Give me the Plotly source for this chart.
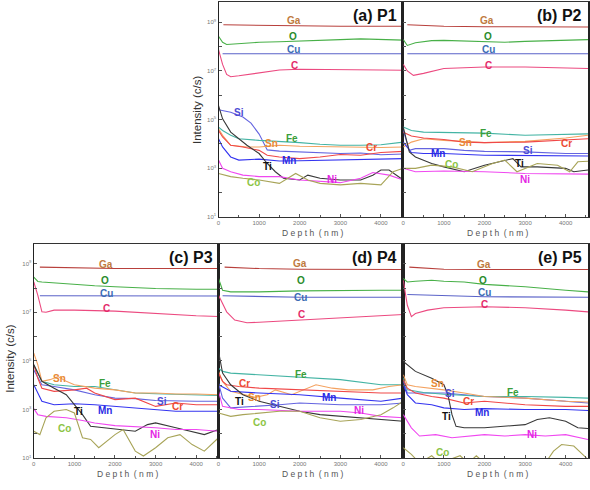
import plotly.graph_objects as go

# ---- data: depth (nm) and log10 intensity (c/s) ----
ELEMENTS = ["Ga", "O", "Cu", "C", "Si", "Fe", "Sn", "Cr", "Mn", "Ti", "Ni", "Co"]
PANEL_TITLES = ["(a) P1", "(b) P2", "(c) P3", "(d) P4", "(e) P5"]

P1 = {
    "Ga": ([120, 1000, 2000, 3000, 4550], [8.90, 8.88, 8.86, 8.84, 8.84]),
    "O": ([0, 100, 200, 500, 1000, 1500, 2000, 2500, 3000, 3500, 4000, 4550],
          [8.43, 8.18, 8.09, 8.13, 8.18, 8.20, 8.22, 8.25, 8.29, 8.32, 8.29, 8.27]),
    "Cu": ([100, 2000, 4550], [7.71, 7.71, 7.71]),
    "C": ([0, 100, 200, 300, 500, 1000, 1500, 2000, 3000, 4000, 4550],
          [7.88, 7.27, 6.86, 6.76, 6.80, 6.93, 7.04, 7.07, 7.07, 7.04, 7.03]),
    "Si": ([0, 300, 600, 800, 1000, 1100, 1200, 1500, 2000, 2500, 3000, 3500, 4000, 4550],
           [5.40, 5.30, 5.10, 4.85, 4.40, 4.05, 3.75, 3.70, 3.67, 3.62, 3.60, 3.62, 3.55, 3.58]),
    "Fe": ([0, 100, 300, 500, 1000, 1500, 2000, 2500, 3000, 3500, 4000, 4550],
           [4.69, 4.55, 4.35, 4.21, 4.14, 4.10, 4.05, 3.98, 3.94, 3.94, 3.96, 4.07]),
    "Sn": ([0, 100, 300, 700, 1000, 1500, 2000, 3000, 4000, 4550],
           [4.62, 4.35, 3.94, 3.87, 3.87, 3.94, 3.90, 3.87, 3.85, 3.87]),
    "Cr": ([0, 100, 300, 600, 1000, 1200, 1500, 2000, 2500, 3000, 3500, 4000, 4550],
           [4.55, 4.28, 3.94, 3.87, 3.73, 3.53, 3.46, 3.39, 3.46, 3.56, 3.53, 3.64, 3.69]),
    "Mn": ([0, 100, 300, 500, 1000, 1500, 2000, 3000, 4000, 4550],
           [4.21, 3.87, 3.46, 3.33, 3.37, 3.29, 3.30, 3.33, 3.37, 3.39]),
    "Ti": ([0, 100, 300, 500, 700, 1000, 1200, 1400, 1600, 2000, 2200, 2500, 3000, 3500, 3800, 4000, 4200, 4550],
           [5.57, 5.03, 4.48, 4.21, 3.94, 3.60, 3.19, 2.85, 2.58, 2.51, 2.71, 2.58, 2.51, 2.51, 2.71, 2.92, 2.92, 2.51]),
    "Ni": ([0, 100, 300, 600, 1000, 1500, 2000, 2500, 3000, 3500, 3800, 4200, 4550],
           [3.33, 2.99, 2.85, 2.71, 2.65, 2.65, 2.51, 2.47, 2.40, 2.58, 2.82, 2.71, 2.51]),
    "Co": ([0, 300, 600, 1000, 1500, 1900, 2200, 2500, 3000, 3500, 4000, 4300, 4550],
           [2.78, 2.65, 2.58, 2.51, 2.37, 2.78, 2.51, 2.37, 2.31, 2.37, 2.31, 2.85, 2.99]),
}

P2 = {
    "Ga": ([100, 1000, 2000, 4550], [8.90, 8.84, 8.82, 8.81]),
    "O": ([0, 100, 300, 700, 1000, 2000, 2500, 3000, 4000, 4550],
          [8.29, 8.05, 8.16, 8.25, 8.26, 8.21, 8.18, 8.22, 8.26, 8.29]),
    "Cu": ([100, 2000, 4550], [7.71, 7.71, 7.71]),
    "C": ([0, 100, 250, 500, 1000, 2000, 3000, 4000, 4550],
          [7.27, 7.00, 6.82, 6.90, 7.10, 7.16, 7.16, 7.13, 7.10]),
    "Si": ([0, 150, 300, 1000, 1500, 2000, 3000, 4000, 4550],
           [4.55, 3.73, 3.80, 3.80, 3.73, 3.69, 3.67, 3.60, 3.60]),
    "Fe": ([0, 200, 500, 1000, 2000, 3000, 4000, 4550],
           [4.69, 4.55, 4.48, 4.46, 4.44, 4.35, 4.38, 4.41]),
    "Sn": ([0, 200, 500, 1000, 2000, 3000, 4000, 4550],
           [3.87, 4.07, 4.21, 4.14, 4.05, 4.10, 4.24, 4.35]),
    "Cr": ([0, 200, 500, 1000, 1500, 2000, 3000, 4000, 4550],
           [4.48, 4.32, 4.24, 4.18, 4.07, 4.05, 4.07, 4.18, 4.21]),
    "Mn": ([0, 200, 500, 1000, 2000, 3000, 4000, 4550],
           [4.07, 3.64, 3.60, 3.60, 3.53, 3.53, 3.53, 3.50]),
    "Ti": ([0, 150, 300, 700, 1000, 1500, 2000, 2500, 2700, 2900, 3300, 4000, 4200, 4550],
           [4.69, 3.67, 3.46, 3.19, 3.05, 2.85, 3.12, 3.33, 3.39, 3.05, 3.05, 2.99, 2.85, 2.92]),
    "Ni": ([0, 300, 1000, 2000, 3000, 4000, 4550],
           [2.99, 2.85, 2.88, 2.85, 2.78, 2.78, 2.75]),
    "Co": ([0, 300, 700, 1200, 1700, 2200, 2500, 2800, 3300, 3800, 4100, 4300, 4550],
           [2.99, 2.99, 3.12, 3.05, 2.85, 3.19, 3.33, 2.85, 3.19, 3.12, 2.85, 3.26, 3.28]),
}

P3 = {
    "Ga": ([150, 1000, 2000, 4550], [8.86, 8.83, 8.80, 8.80]),
    "O": ([0, 100, 200, 500, 1000, 1500, 2000, 3000, 4000, 4550],
          [8.45, 8.27, 8.25, 8.21, 8.14, 8.09, 8.05, 7.98, 7.95, 7.95]),
    "Cu": ([150, 2000, 4550], [7.68, 7.68, 7.67]),
    "C": ([0, 100, 200, 300, 500, 1000, 2000, 3000, 4000, 4550],
          [8.25, 7.70, 7.02, 7.00, 7.09, 7.09, 7.05, 6.95, 6.86, 6.83]),
    "Si": ([0, 200, 500, 1000, 1500, 2000, 2500, 3000, 4000, 4550],
           [4.63, 4.02, 3.95, 3.81, 3.61, 3.47, 3.45, 3.37, 3.34, 3.34]),
    "Fe": ([0, 200, 500, 1000, 1500, 2000, 2500, 3000, 4000, 4550],
           [4.84, 4.16, 4.02, 3.95, 3.95, 3.81, 3.68, 3.65, 3.61, 3.58]),
    "Sn": ([0, 100, 200, 400, 600, 800, 1000, 1500, 2000, 2500, 3000, 3500, 4000, 4550],
           [5.32, 4.84, 4.16, 4.23, 4.36, 4.16, 4.02, 3.88, 3.81, 3.68, 3.68, 3.64, 3.64, 3.61]),
    "Cr": ([0, 100, 200, 500, 1000, 1300, 1500, 2000, 2500, 3000, 3500, 4000, 4550],
           [4.84, 4.29, 3.88, 3.75, 3.81, 3.88, 3.68, 3.41, 3.47, 3.13, 3.27, 3.20, 3.20]),
    "Mn": ([0, 100, 200, 500, 1000, 1500, 2000, 3000, 3500, 4000, 4550],
           [4.02, 3.68, 3.34, 3.20, 3.24, 3.20, 3.13, 3.00, 2.93, 2.93, 2.93]),
    "Ti": ([0, 200, 500, 800, 1000, 1200, 1400, 1700, 2000, 2500, 2800, 3000, 3500, 4000, 4200, 4550],
           [4.84, 4.16, 3.88, 3.61, 3.20, 2.79, 2.31, 2.25, 2.22, 2.11, 2.38, 2.45, 2.25, 2.04, 1.97, 2.18]),
    "Ni": ([0, 100, 300, 800, 1200, 1500, 2000, 2500, 3000, 3500, 4000, 4550],
           [3.04, 2.79, 2.72, 2.66, 2.55, 2.45, 2.34, 2.31, 2.25, 2.18, 2.18, 2.11]),
    "Co": ([0, 150, 300, 500, 800, 1000, 1200, 1400, 1600, 1800, 2000, 2200, 2500, 2700, 3000, 3300, 3600, 3900, 4200, 4550],
           [2.11, 1.97, 2.66, 2.93, 3.00, 2.86, 1.84, 1.77, 1.43, 1.70, 1.97, 2.18, 1.29, 1.09, 1.43, 1.84, 1.97, 1.56, 1.29, 1.84]),
}

P4 = {
    "Ga": ([150, 1000, 2000, 4550], [8.86, 8.80, 8.77, 8.76]),
    "O": ([0, 100, 300, 1000, 2000, 3000, 4000, 4550],
          [8.39, 7.91, 7.84, 7.84, 7.88, 7.91, 7.91, 7.91]),
    "Cu": ([100, 1000, 2000, 4550], [7.68, 7.65, 7.62, 7.62]),
    "C": ([0, 100, 200, 400, 700, 1000, 2000, 3000, 4000, 4550],
          [7.70, 7.36, 7.02, 6.68, 6.57, 6.59, 6.68, 6.79, 6.89, 6.91]),
    "Si": ([0, 100, 300, 1000, 1500, 2000, 3000, 4000, 4550],
           [4.09, 3.47, 3.07, 3.13, 3.20, 3.27, 3.20, 3.20, 3.27]),
    "Fe": ([0, 100, 300, 1000, 2000, 3000, 4000, 4550],
           [4.70, 4.57, 4.50, 4.43, 4.36, 4.23, 4.02, 4.02]),
    "Sn": ([0, 100, 300, 600, 900, 1200, 1400, 1800, 2200, 2400, 2800, 3200, 3800, 4200, 4550],
           [4.57, 4.16, 3.75, 3.61, 3.50, 3.61, 3.81, 3.61, 3.88, 4.02, 3.88, 3.81, 3.81, 3.95, 4.02]),
    "Cr": ([0, 100, 200, 500, 1000, 2000, 3000, 4000, 4550],
           [4.50, 4.16, 4.02, 3.95, 3.88, 3.81, 3.75, 3.68, 3.68]),
    "Mn": ([0, 300, 1000, 2000, 3000, 4000, 4550],
           [4.02, 3.75, 3.68, 3.61, 3.47, 3.34, 3.47]),
    "Ti": ([0, 100, 300, 600, 1000, 1500, 2000, 2500, 3000, 3500, 4000, 4550],
           [5.39, 4.50, 4.02, 3.61, 3.34, 3.13, 2.93, 2.79, 2.72, 2.66, 2.59, 2.52]),
    "Ni": ([0, 100, 500, 1000, 2000, 3000, 3500, 4000, 4550],
           [3.75, 3.13, 3.00, 3.00, 2.93, 2.93, 2.86, 2.72, 2.66]),
    "Co": ([0, 300, 600, 1000, 1500, 2000, 2500, 3000, 3500, 4000, 4300, 4550],
           [2.86, 2.72, 2.79, 2.86, 2.93, 2.93, 2.66, 2.52, 2.59, 2.79, 3.07, 3.34]),
}

P5 = {
    "Ga": ([150, 1000, 2000, 4550], [8.86, 8.77, 8.76, 8.76]),
    "O": ([0, 100, 300, 700, 1000, 1500, 2000, 3000, 4000, 4550],
          [8.39, 8.25, 8.28, 8.32, 8.28, 8.25, 8.15, 8.05, 7.91, 7.84]),
    "Cu": ([100, 1000, 2000, 4550], [7.73, 7.68, 7.64, 7.62]),
    "C": ([0, 100, 200, 300, 600, 1000, 2000, 3000, 4000, 4550],
          [8.32, 7.29, 6.82, 6.95, 7.09, 7.19, 7.23, 7.19, 7.09, 7.02]),
    "Si": ([0, 100, 500, 1000, 1500, 2000, 3000, 4000, 4550],
           [4.16, 3.68, 3.68, 3.68, 3.61, 3.54, 3.47, 3.34, 3.27]),
    "Fe": ([0, 100, 500, 1000, 2000, 3000, 4000, 4550],
           [4.29, 3.81, 3.70, 3.63, 3.54, 3.54, 3.50, 3.47]),
    "Sn": ([0, 100, 300, 700, 1000, 1500, 2000, 3000, 4000, 4550],
           [4.43, 4.02, 3.95, 3.88, 3.81, 3.68, 3.54, 3.47, 3.34, 3.31]),
    "Cr": ([0, 100, 300, 700, 1000, 1500, 2000, 3000, 4000, 4550],
           [4.23, 3.88, 3.68, 3.54, 3.47, 3.27, 3.34, 3.20, 3.13, 3.13]),
    "Mn": ([0, 100, 300, 700, 1000, 1500, 2000, 3000, 4000, 4550],
           [4.02, 3.61, 3.27, 3.20, 3.07, 3.00, 3.04, 3.00, 3.00, 2.96]),
    "Ti": ([0, 300, 700, 1000, 1100, 1200, 1300, 1500, 2000, 2500, 3000, 3300, 3600, 4000, 4300, 4550],
           [4.98, 4.57, 4.29, 4.02, 3.61, 2.79, 2.31, 2.25, 2.25, 2.31, 2.38, 2.59, 2.66, 2.52, 2.25, 2.22]),
    "Ni": ([0, 200, 400, 800, 1200, 1600, 2000, 2500, 3000, 3500, 4000, 4550],
           [2.79, 2.25, 1.91, 1.97, 1.84, 1.91, 1.97, 1.91, 1.97, 1.91, 1.97, 1.77]),
    "Co": ([0, 200, 400, 700, 900, 1400, 1600, 1800, 2000, 3500, 3700, 3900, 4200, 4400, 4550],
           [1.43, 1.16, 0.80, 1.10, 0.80, 1.10, 0.80, 1.10, 0.80, 0.80, 1.29, 1.56, 1.50, 1.16, 0.95]),
}

# label positions (depth, log10 intensity) for each panel
LBL1 = {"Ga": (1870, 9.08), "O": (1830, 8.40), "Cu": (1850, 7.88), "C": (1870, 7.23), "Si": (510, 5.30),
        "Fe": (1800, 4.21), "Sn": (1300, 4.03), "Cr": (3760, 3.84), "Mn": (1730, 3.30), "Ti": (1195, 3.08),
        "Ni": (2790, 2.51), "Co": (850, 2.40)}
LBL2 = {"Ga": (2060, 9.08), "O": (2080, 8.43), "Cu": (2100, 7.88), "C": (2110, 7.24), "Si": (3060, 3.73),
        "Fe": (2030, 4.41), "Sn": (1530, 4.05), "Cr": (4010, 4.01), "Mn": (850, 3.62), "Ti": (2870, 3.19),
        "Ni": (2990, 2.51), "Co": (1180, 3.14)}
LBL3 = {"Ga": (1780, 8.96), "O": (1760, 8.29), "Cu": (1790, 7.76), "C": (1800, 7.16), "Si": (3160, 3.34),
        "Fe": (1760, 4.06), "Sn": (640, 4.29), "Cr": (3530, 3.13), "Mn": (1760, 2.97), "Ti": (1105, 2.93),
        "Ni": (2980, 1.97), "Co": (760, 2.21)}
LBL4 = {"Ga": (2010, 9.00), "O": (2030, 8.32), "Cu": (2030, 7.59), "C": (2050, 6.91), "Si": (1380, 3.20),
        "Fe": (2020, 4.43), "Sn": (890, 3.50), "Cr": (650, 4.06), "Mn": (2710, 3.51), "Ti": (510, 3.34),
        "Ni": (3460, 2.97), "Co": (1020, 2.48)}
LBL5 = {"Ga": (1990, 8.96), "O": (1975, 8.30), "Cu": (1990, 7.81), "C": (2010, 7.33), "Si": (1150, 3.68),
        "Fe": (2700, 3.72), "Sn": (850, 4.07), "Cr": (1600, 3.34), "Mn": (1950, 2.87), "Ti": (1070, 2.73),
        "Ni": (3160, 1.97), "Co": (970, 1.25)}

# ---- styles ----
LINE_COLORS = {"Ga": "#b8403c", "O": "#48b048", "Cu": "#5a62c8", "C": "#ec4a80", "Si": "#6464e0",
               "Fe": "#44b4a4", "Sn": "#f4a260", "Cr": "#f04848", "Mn": "#3434f0", "Ti": "#383838",
               "Ni": "#f048f0", "Co": "#a8a458"}
LABEL_COLORS = {"Ga": "#c07a3e", "O": "#2a8c2a", "Cu": "#3c6cb4", "C": "#e42a6a", "Si": "#4c4cd4",
                "Fe": "#3a9e3a", "Sn": "#e88a34", "Cr": "#ec4a32", "Mn": "#2a2ae4", "Ti": "#111111",
                "Ni": "#e424e4", "Co": "#8cc444"}

FONT = "Liberation Sans, Arial, sans-serif"
W, H = 590, 490

def px_x(p):
    return p / W

def px_y(p):
    return 1 - p / H

# panel geometry in pixels: (left, right, top, bottom, ytop_log)
PANELS = [
    (218, 404, 2, 218, 9.84),
    (404, 590, 2, 218, 9.84),
    (32, 218, 246, 461, 9.79),
    (218, 404, 246, 461, 9.79),
    (404, 590, 246, 461, 9.79),
]
DATA = [P1, P2, P3, P4, P5]
LABELS = [LBL1, LBL2, LBL3, LBL4, LBL5]

fig = go.Figure()
layout = dict(width=W, height=H, margin=dict(l=0, r=0, t=0, b=0), paper_bgcolor="white",
              plot_bgcolor="white", showlegend=False, font=dict(family=FONT))
annotations = []

Y_MAJOR = [10 ** k for k in (1, 3, 5, 7, 9)]
Y_MAJOR_TEXT = ["10<sup>%d</sup>" % k for k in (1, 3, 5, 7, 9)]
Y_MINOR = [10 ** k for k in (2, 4, 6, 8)]
X_MAJOR = [0, 1000, 2000, 3000, 4000]
X_MINOR = [500, 1500, 2500, 3500, 4500]

for i, (geom, data, lbl, title) in enumerate(zip(PANELS, DATA, LABELS, PANEL_TITLES)):
    l, r, t, b, ytop = geom
    n = i + 1
    xa = "x" if n == 1 else "x%d" % n
    ya = "y" if n == 1 else "y%d" % n
    show_ylab = i in (0, 2)
    for el in ELEMENTS:
        d, v = data[el]
        fig.add_trace(go.Scatter(x=d, y=[10 ** val for val in v], mode="lines",
                                 line=dict(color=LINE_COLORS[el], width=1.1),
                                 xaxis=xa, yaxis=ya, hoverinfo="skip"))
        lx, ly = lbl[el]
        annotations.append(dict(x=lx, y=ly, xref=xa, yref=ya, text="<b>%s</b>" % el, showarrow=False,
                                font=dict(size=10, color=LABEL_COLORS[el], family=FONT)))
    layout["xaxis" if n == 1 else "xaxis%d" % n] = dict(
        domain=[px_x(l), px_x(r)], anchor=ya, range=[0, 4550], showgrid=False, zeroline=False,
        showline=True, linecolor="#333333", linewidth=1.2, mirror=True,
        ticks="inside", ticklen=3, tickcolor="#555555", tickmode="array",
        tickvals=X_MAJOR, ticktext=[str(v) for v in X_MAJOR],
        minor=dict(tickmode="array", tickvals=X_MINOR, ticks="inside", ticklen=2, tickcolor="#555555"),
        tickfont=dict(size=6, color="#777777", family=FONT))
    yax = dict(
        domain=[px_y(b), px_y(t)], anchor=xa, type="log", range=[1, ytop], showgrid=False,
        zeroline=False, showline=True, linecolor="#222222", linewidth=2 if not show_ylab else 1.4,
        mirror=True, ticks="inside", ticklen=3, tickcolor="#555555", tickmode="array",
        tickvals=Y_MAJOR,
        minor=dict(tickmode="array", tickvals=Y_MINOR, ticks="inside", ticklen=3, tickcolor="#555555"),
        showticklabels=show_ylab, tickfont=dict(size=6, color="#777777", family=FONT))
    if show_ylab:
        yax["ticktext"] = Y_MAJOR_TEXT
    layout["yaxis" if n == 1 else "yaxis%d" % n] = yax
    # panel title
    annotations.append(dict(x=px_x(r - 4), y=px_y(t + 3), xref="paper", yref="paper",
                            xanchor="right", yanchor="top", text="<b>%s</b>" % title, showarrow=False,
                            font=dict(size=16, color="#111111", family=FONT)))
    # x title
    annotations.append(dict(x=px_x((l + r) / 2 + 2), y=px_y(b + 9), xref="paper", yref="paper",
                            xanchor="center", yanchor="top", text="D e p t h  ( n m )", showarrow=False,
                            font=dict(size=8.5, color="#555555", family=FONT)))

# y titles
annotations.append(dict(x=px_x(197), y=px_y(110), xref="paper", yref="paper", text="Intensity (c/s)",
                        xanchor="center", yanchor="middle", textangle=-90, showarrow=False,
                        font=dict(size=11.5, color="#333333", family=FONT)))
annotations.append(dict(x=px_x(8), y=px_y(360), xref="paper", yref="paper", text="Intensity (c/s)",
                        xanchor="center", yanchor="middle", textangle=-90, showarrow=False,
                        font=dict(size=11.5, color="#333333", family=FONT)))

layout["annotations"] = annotations
fig.update_layout(**layout)
fig.write_html("out.html")
